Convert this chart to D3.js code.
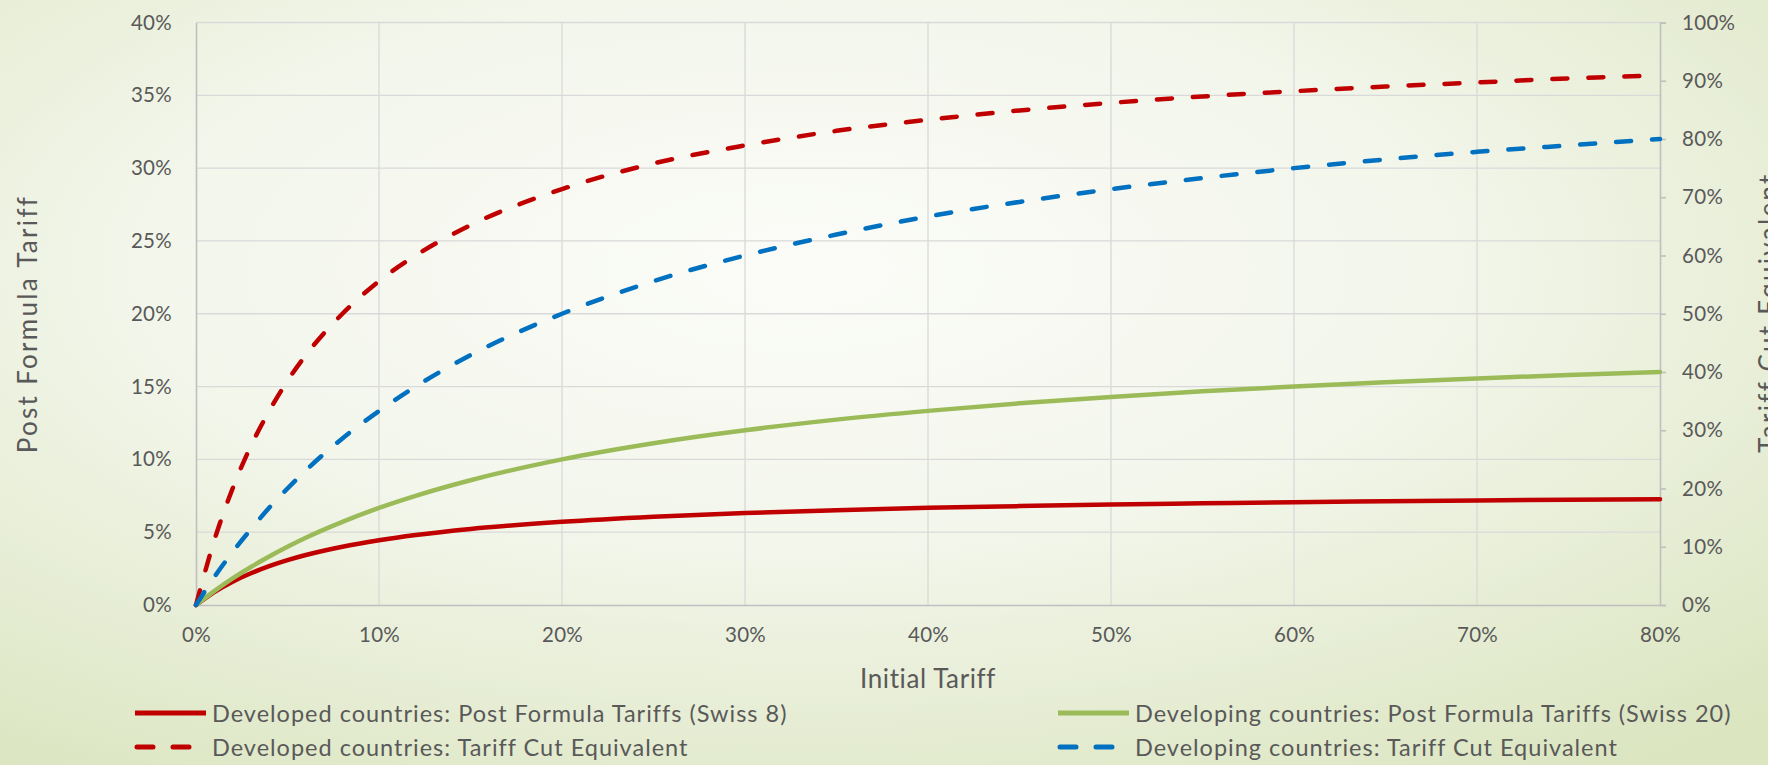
<!DOCTYPE html>
<html>
<head>
<meta charset="utf-8">
<script src="https://cdn.jsdelivr.net/npm/d3@7"></script>
<style>
  html, body { margin: 0; padding: 0; }
  body { width: 1768px; height: 765px; overflow: hidden; }
  text { font-family: Lato, "Noto Sans", sans-serif; fill: #595959; }
</style>
</head>
<body>
<svg id="chart" width="1768" height="765"></svg>
<script>
// initial tariff (%), x values of the sampled points
const initialTariff = [0, 1, 2, 3, 4, 5, 6, 8, 10, 12, 15, 20, 25, 30, 35, 40, 45, 50, 55, 60, 65, 70, 75, 80];

// post formula tariff (%), left axis
const developedPost = [0, 0.89, 1.6, 2.18, 2.67, 3.08, 3.43, 4.0, 4.44, 4.8, 5.22, 5.71, 6.06, 6.32, 6.51, 6.67, 6.79, 6.9, 6.98, 7.06, 7.12, 7.18, 7.23, 7.27];
const developingPost = [0, 0.95, 1.82, 2.61, 3.33, 4.0, 4.62, 5.71, 6.67, 7.5, 8.57, 10.0, 11.11, 12.0, 12.73, 13.33, 13.85, 14.29, 14.67, 15.0, 15.29, 15.56, 15.79, 16.0];

// tariff cut equivalent (%), right axis
const developedCut = [0, 11.1, 20.0, 27.3, 33.3, 38.5, 42.9, 50.0, 55.6, 60.0, 65.2, 71.4, 75.8, 78.9, 81.4, 83.3, 84.9, 86.2, 87.3, 88.2, 89.0, 89.7, 90.4, 90.9];
const developingCut = [0, 4.8, 9.1, 13.0, 16.7, 20.0, 23.1, 28.6, 33.3, 37.5, 42.9, 50.0, 55.6, 60.0, 63.6, 66.7, 69.2, 71.4, 73.3, 75.0, 76.5, 77.8, 78.9, 80.0];

const xTicks = [0, 10, 20, 30, 40, 50, 60, 70, 80];
const leftTicks = [0, 5, 10, 15, 20, 25, 30, 35, 40];
const rightTicks = [0, 10, 20, 30, 40, 50, 60, 70, 80, 90, 100];

const seriesNames = [
  "Developed countries: Post Formula Tariffs (Swiss 8)",
  "Developing countries: Post Formula Tariffs (Swiss 20)",
  "Developed countries: Tariff Cut Equivalent",
  "Developing countries: Tariff Cut Equivalent"
];

const series = [
  { name: seriesNames[0], values: developedPost, axis: "left", color: "#c00000", dashed: false },
  { name: seriesNames[1], values: developingPost, axis: "left", color: "#9bbb59", dashed: false },
  { name: seriesNames[2], values: developedCut, axis: "right", color: "#c00000", dashed: true },
  { name: seriesNames[3], values: developingCut, axis: "right", color: "#0070c0", dashed: true }
];

const svg = d3.select("#chart");
const width = +svg.attr("width");
const height = +svg.attr("height");

// background
const defs = svg.append("defs");
const grad = defs.append("radialGradient")
  .attr("id", "bg")
  .attr("cx", "45%").attr("cy", "35%").attr("r", "80%")
  .attr("gradientUnits", "objectBoundingBox");
grad.append("stop").attr("offset", "0").attr("stop-color", "#fbfcf8");
grad.append("stop").attr("offset", "0.45").attr("stop-color", "#f3f6eb");
grad.append("stop").attr("offset", "1").attr("stop-color", "#dbe5c0");
svg.append("rect").attr("width", width).attr("height", height).attr("fill", "url(#bg)");

const margin = { top: 22.5, right: 108, bottom: 160, left: 196 };
const plotW = width - margin.left - margin.right;
const plotH = height - margin.top - margin.bottom;

const x = d3.scaleLinear().domain([0, 80]).range([margin.left, margin.left + plotW]);
const yLeft = d3.scaleLinear().domain([0, 40]).range([margin.top + plotH, margin.top]);
const yRight = d3.scaleLinear().domain([0, 100]).range([margin.top + plotH, margin.top]);

const pct = d => d + "%";

// gridlines
const grid = svg.append("g");
grid.selectAll(".hg").data(leftTicks.filter(d => d > 0)).join("line")
  .attr("x1", x(0)).attr("x2", x(80))
  .attr("y1", d => yLeft(d)).attr("y2", d => yLeft(d))
  .attr("stroke", "#d9d9d9").attr("stroke-width", 1.3);
grid.selectAll(".vg").data(xTicks.filter(d => d > 0 && d < 80)).join("line")
  .attr("x1", d => x(d)).attr("x2", d => x(d))
  .attr("y1", yLeft(0)).attr("y2", yLeft(40))
  .attr("stroke", "#d9d9d9").attr("stroke-width", 1.3);

// axes
const axisColor = "#bfbfbf";
const gx = svg.append("g")
  .attr("transform", `translate(0,${yLeft(0)})`)
  .call(d3.axisBottom(x).tickValues(xTicks).tickFormat(pct).tickSize(0).tickPadding(22));
const gl = svg.append("g")
  .attr("transform", `translate(${x(0)},0)`)
  .call(d3.axisLeft(yLeft).tickValues(leftTicks).tickFormat(pct).tickSize(0).tickPadding(24));
const gr = svg.append("g")
  .attr("transform", `translate(${x(80)},0)`)
  .call(d3.axisRight(yRight).tickValues(rightTicks).tickFormat(pct).tickSize(6).tickPadding(16));

[gx, gl, gr].forEach(g => {
  g.select(".domain").attr("stroke", axisColor).attr("stroke-width", 1.6);
  g.selectAll(".tick line").attr("stroke", axisColor).attr("stroke-width", 1.6);
  g.selectAll(".tick text")
    .style("font-family", "Lato, 'Noto Sans', sans-serif")
    .style("font-size", "20.5px")
    .style("letter-spacing", "0.3px")
    .attr("fill", "#595959");
});
gx.selectAll(".tick text").attr("dy", "0.71em");

// axis titles
svg.append("text")
  .attr("x", x(40)).attr("y", 678)
  .attr("text-anchor", "middle").attr("dominant-baseline", "central")
  .style("font-size", "26px").style("letter-spacing", "0.6px")
  .text("Initial Tariff");
svg.append("text")
  .attr("transform", `translate(27,324) rotate(-90)`)
  .attr("text-anchor", "middle").attr("dominant-baseline", "central")
  .style("font-size", "26px").style("letter-spacing", "2.3px")
  .text("Post Formula Tariff");
svg.append("text")
  .attr("transform", `translate(1768,453) rotate(-90)`)
  .attr("text-anchor", "start").attr("dominant-baseline", "central")
  .style("font-size", "26px").style("letter-spacing", "2.3px")
  .text("Tariff Cut Equivalent");

// lines
const plot = svg.append("g");
series.forEach(s => {
  const yScale = s.axis === "left" ? yLeft : yRight;
  const line = d3.line()
    .x((d, i) => x(initialTariff[i]))
    .y(d => yScale(d))
    .curve(d3.curveMonotoneX);
  plot.append("path")
    .datum(s.values)
    .attr("d", line)
    .attr("fill", "none")
    .attr("stroke", s.color)
    .attr("stroke-width", 4.5)
    .attr("stroke-linecap", "round")
    .attr("stroke-linejoin", "round")
    .attr("stroke-dasharray", s.dashed ? "15 21" : null);
});

// legend
const legendPos = [
  { x: 135, y: 713 },
  { x: 1058, y: 713 },
  { x: 135, y: 747 },
  { x: 1058, y: 747 }
];
const legend = svg.append("g");
series.forEach((s, i) => {
  const p = legendPos[i];
  const g = legend.append("g").attr("transform", `translate(${p.x},${p.y})`);
  g.append("line")
    .attr("x1", s.dashed ? 2 : 0).attr("x2", s.dashed ? 56 : 71)
    .attr("y1", 0).attr("y2", 0)
    .attr("stroke", s.color)
    .attr("stroke-width", 5)
    .attr("stroke-linecap", s.dashed ? "round" : "butt")
    .attr("stroke-dasharray", s.dashed ? "16 20" : null);
  g.append("text")
    .attr("x", 77).attr("y", 0)
    .attr("dominant-baseline", "central")
    .style("font-size", "23.5px").style("letter-spacing", "1px")
    .text(s.name);
});
</script>
</body>
</html>
